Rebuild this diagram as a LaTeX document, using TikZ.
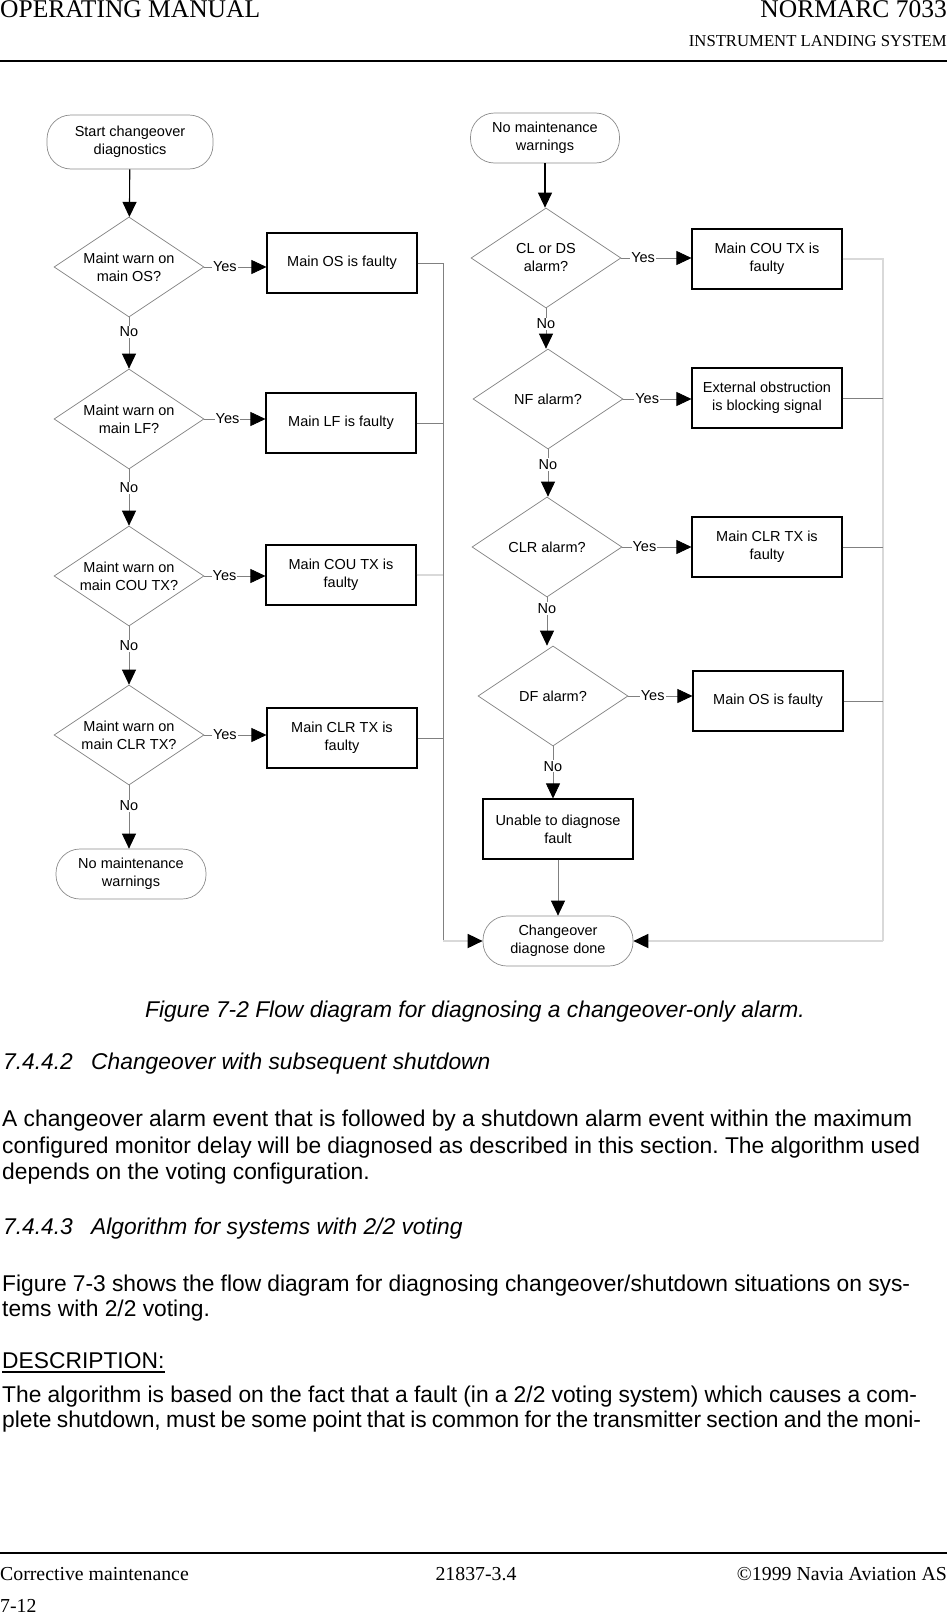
\documentclass[tikz,border=0pt]{standalone}
\usepackage{fontspec}
\setmainfont{Liberation Sans}
\newfontfamily\cabecera{Liberation Serif}
\usetikzlibrary{shapes.geometric,arrows.meta,positioning}

\begin{document}
\frenchspacing
\begin{tikzpicture}[
    x=1pt,
    y=-1pt,
    pregunta/.style={diamond, aspect=1.5, draw=black!50, line width=0.7pt,
        minimum width=150pt, minimum height=100pt, inner sep=0pt, align=center,
        font=\fontsize{14.5}{18}\selectfont},
    caja/.style={rectangle, draw=black, line width=1.1pt, minimum width=150pt,
        minimum height=60pt, align=center, font=\fontsize{14.5}{18}\selectfont},
    extremo/.style={rectangle, rounded corners=24pt, draw=black!45, line width=0.7pt,
        minimum width=150pt, minimum height=50pt, align=center,
        font=\fontsize{14.5}{18}\selectfont},
    flecha/.style={draw=black!50, line width=0.7pt,
        -{Triangle[length=15pt, width=14pt, color=black]}},
    linea/.style={draw=black!50, line width=0.7pt},
    retorno/.style={draw=black!15, line width=1.8pt},
    rotulo/.style={fill=white, inner sep=1pt, font=\fontsize{14.5}{18}\selectfont},
    texto/.style={inner sep=0pt, font=\fontsize{22.8}{26}\selectfont},
    titulo/.style={inner sep=0pt, font=\fontsize{22.8}{26}\selectfont\itshape},
    pie/.style={inner sep=0pt, font=\cabecera\fontsize{19.8}{20}\selectfont}
]
\useasboundingbox (0,0) rectangle (947,1614);
\fill[white] (0,0) rectangle (947,1614);

% Cabecera de la pagina
\node[inner sep=0pt, anchor=base west, font=\cabecera\fontsize{25.5}{25.5}\selectfont]
    (manual) at (0,17) {OPERATING MANUAL};
\node[inner sep=0pt, anchor=base east, font=\cabecera\fontsize{25.5}{25.5}\selectfont]
    (normarc) at (947,17) {NORMARC 7033};
\node[inner sep=0pt, anchor=base east, font=\cabecera\fontsize{16.7}{17}\selectfont]
    (ils) at (947,46) {INSTRUMENT LANDING SYSTEM};
\draw[line width=1.3pt] (0,61) -- (947,61);

% Columna izquierda
\node[extremo, minimum width=166pt, minimum height=54pt] (inicio) at (130,142)
    {Start changeover\\diagnostics};
\node[pregunta] (qOS) at (129,267) {Maint warn on\\main OS?};
\node[caja] (fOS) at (342,263) {Main OS is faulty};
\node[pregunta] (qLF) at (129,419) {Maint warn on\\main LF?};
\node[caja] (fLF) at (341,423) {Main LF is faulty};
\node[pregunta] (qCOU) at (129,576) {Maint warn on\\main COU TX?};
\node[caja] (fCOU) at (341,575) {Main COU TX is\\faulty};
\node[pregunta] (qCLR) at (129,735) {Maint warn on\\main CLR TX?};
\node[caja] (fCLR) at (342,738) {Main CLR TX is\\faulty};
\node[extremo] (sinaviso) at (131,874) {No maintenance\\warnings};

% Columna derecha
\node[extremo, minimum width=149pt] (inicioR) at (545,138) {No maintenance\\warnings};
\node[pregunta] (qCL) at (546,258) {CL or DS\\alarm?};
\node[caja] (fCL) at (767,259) {Main COU TX is\\faulty};
\node[pregunta] (qNF) at (548,399) {NF alarm?};
\node[caja] (fNF) at (767,398) {External obstruction\\is blocking signal};
\node[pregunta] (qCLR2) at (547,547) {CLR alarm?};
\node[caja] (fCLR2) at (767,547) {Main CLR TX is\\faulty};
\node[pregunta] (qDF) at (553,696) {DF alarm?};
\node[caja] (fOS2) at (768,701) {Main OS is faulty};
\node[caja] (nodiag) at (558,829) {Unable to diagnose\\fault};
\node[extremo] (fin) at (558,941) {Changeover\\diagnose done};

\coordinate (busL) at (443,941);
\coordinate (busR) at (883,941);

% Flujo izquierdo
\draw[flecha, draw=black, line width=1.1pt] (inicio) -- (qOS);
\draw[flecha] (qOS.east) -- (qOS.east -| fOS.west) node[rotulo, pos=0.33] {Yes};
\draw[flecha] (qLF.east) -- (qLF.east -| fLF.west) node[rotulo, pos=0.38] {Yes};
\draw[flecha] (qCOU.east) -- (qCOU.east -| fCOU.west) node[rotulo, pos=0.33] {Yes};
\draw[flecha] (qCLR.east) -- (qCLR.east -| fCLR.west) node[rotulo, pos=0.33] {Yes};
\draw[flecha] (qOS.south) -- (qLF.north) node[rotulo, pos=0.28] {No};
\draw[flecha] (qLF.south) -- (qCOU.north) node[rotulo, pos=0.33] {No};
\draw[flecha] (qCOU.south) -- (qCLR.north) node[rotulo, pos=0.33] {No};
\draw[flecha] (qCLR.south) -- (qCLR.south |- sinaviso.north) node[rotulo, pos=0.32] {No};

% Flujo derecho
\draw[flecha, draw=black, line width=1.1pt] (inicioR) -- (inicioR |- qCL.north);
\draw[flecha] (qCL.east) -- (qCL.east -| fCL.west) node[rotulo, pos=0.31] {Yes};
\draw[flecha] (qNF.east) -- (qNF.east -| fNF.west) node[rotulo, pos=0.35] {Yes};
\draw[flecha] (qCLR2.east) -- (qCLR2.east -| fCLR2.west) node[rotulo, pos=0.32] {Yes};
\draw[flecha] (qDF.east) -- (qDF.east -| fOS2.west) node[rotulo, pos=0.38] {Yes};
\draw[flecha] (qCL.south) -- (qCL.south |- qNF.north) node[rotulo, pos=0.39] {No};
\draw[flecha] (qNF.south) -- (qNF.south |- qCLR2.north) node[rotulo, pos=0.32] {No};
\draw[flecha] (qCLR2.south) -- (qCLR2.south |- qDF.north) node[rotulo, pos=0.23] {No};
\draw[flecha] (qDF.south) -- (qDF.south |- nodiag.north) node[rotulo, pos=0.38] {No};
\draw[flecha] (nodiag) -- (fin);

% Retornos
\draw[linea] (fOS.east) -- (fOS.east -| busL) -- (busL);
\draw[linea] (fLF.east) -- (fLF.east -| busL);
\draw[retorno] (fCOU.east) -- (fCOU.east -| busL);
\draw[linea] (fCLR.east) -- (fCLR.east -| busL);
\draw[retorno] (fCL.east) -- (fCL.east -| busR) -- (busR);
\draw[linea] (fNF.east) -- (fNF.east -| busR);
\draw[linea] (fCLR2.east) -- (fCLR2.east -| busR);
\draw[linea] (fOS2.east) -- (fOS2.east -| busR);
\draw[retorno, -{Triangle[length=15pt, width=14pt, color=black]}] (busL) -- (fin.west);
\draw[retorno, -{Triangle[length=15pt, width=14pt, color=black]}] (busR) -- (fin.east);

% Texto de la pagina
\node[titulo, anchor=base] (leyenda) at (475,1017)
    {Figure 7-2 Flow diagram for diagnosing a changeover-only alarm.};
\node[titulo, anchor=base west] (num1) at (3,1069) {7.4.4.2};
\node[titulo, anchor=base west] (tit1) at (91,1069) {Changeover with subsequent shutdown};
\node[texto, anchor=base west] (p1a) at (2,1126)
    {\makebox[910pt][s]{A changeover alarm event that is followed by a shutdown alarm event within the maximum}};
\node[texto, anchor=base west] (p1b) at (2,1153)
    {\makebox[918pt][s]{configured monitor delay will be diagnosed as described in this section. The algorithm used}};
\node[texto, anchor=base west] (p1c) at (2,1179) {depends on the voting configuration.};
\node[titulo, anchor=base west] (num2) at (3,1234) {7.4.4.3};
\node[titulo, anchor=base west] (tit2) at (91,1234) {Algorithm for systems with 2/2 voting};
\node[texto, anchor=base west] (p2a) at (2,1291)
    {\makebox[908pt][s]{Figure 7-3 shows the flow diagram for diagnosing changeover/shutdown situations on sys-}};
\node[texto, anchor=base west] (p2b) at (2,1316) {tems with 2/2 voting.};
\node[texto, anchor=base west] (desc) at (2,1368) {DESCRIPTION:};
\draw[line width=1.2pt] ([yshift=-4pt]desc.base west) -- ([yshift=-4pt]desc.base east);
\node[texto, anchor=base west] (p3a) at (2,1402)
    {\makebox[915pt][s]{The algorithm is based on the fact that a fault (in a 2/2 voting system) which causes a com-}};
\node[texto, anchor=base west] (p3b) at (2,1427)
    {\makebox[919pt][s]{plete shutdown, must be some point that is common for the transmitter section and the moni-}};

% Pie de pagina
\draw[line width=1.3pt] (0,1553) -- (947,1553);
\node[pie, anchor=base west] (seccion) at (0,1580) {Corrective maintenance};
\node[pie, anchor=base] (docnum) at (476,1580) {21837-3.4};
\node[pie, anchor=base east] (copy) at (947,1580) {©1999 Navia Aviation AS};
\node[pie, anchor=base west] (pagina) at (0,1612) {7-12};

\end{tikzpicture}
\end{document}
